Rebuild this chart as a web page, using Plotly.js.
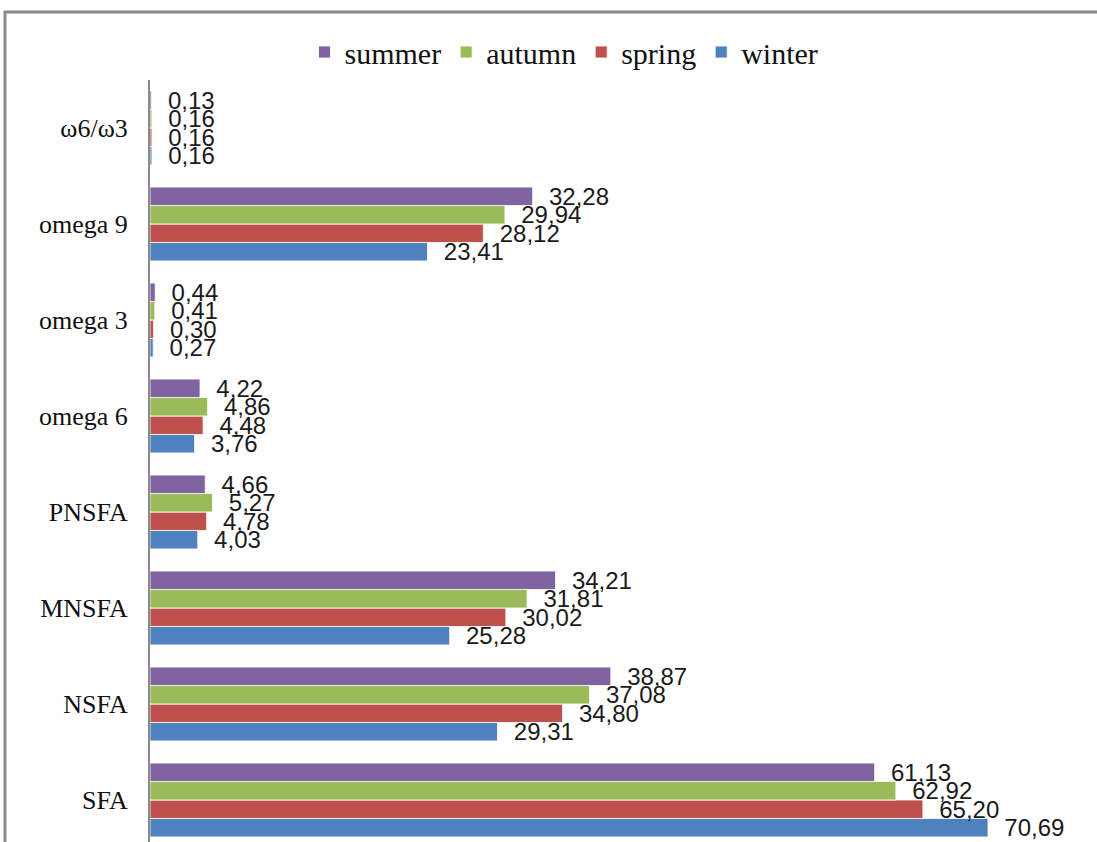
<!DOCTYPE html>
<html>
<head>
<meta charset="utf-8">
<script src="https://cdn.plot.ly/plotly-3.0.1.min.js"></script>
<style>
  html, body { margin: 0; padding: 0; background: #fff; }
  #chart { width: 1097px; height: 842px; }
</style>
</head>
<body>
<div id="chart"></div>
<script>
// Categories, bottom to top
const categories = ["SFA", "NSFA", "MNSFA", "PNSFA", "omega 6", "omega 3", "omega 9", "ω6/ω3"];
const winter = [70.69, 29.31, 25.28, 4.03, 3.76, 0.27, 23.41, 0.16];
const spring = [65.20, 34.80, 30.02, 4.78, 4.48, 0.30, 28.12, 0.16];
const autumn = [62.92, 37.08, 31.81, 5.27, 4.86, 0.41, 29.94, 0.16];
const summer = [61.13, 38.87, 34.21, 4.66, 4.22, 0.44, 32.28, 0.13];
const seriesNames = ["winter", "spring", "autumn", "summer"];
const seriesValues = [winter, spring, autumn, summer];
const seriesColors = ["#4F81BD", "#C0504D", "#9BBB59", "#8064A2"];

const fmt = v => "\u00a0\u00a0" + v.toFixed(2).replace(".", ",");

const traces = seriesNames.map((name, i) => ({
  type: "bar",
  orientation: "h",
  name: name,
  y: categories,
  x: seriesValues[i],
  text: seriesValues[i].map(fmt),
  textposition: "outside",
  constraintext: "none",
  cliponaxis: false,
  textfont: { family: "Liberation Sans, Arial, sans-serif", size: 24, color: "#1a1a1a" },
  marker: { color: seriesColors[i], line: { color: "rgba(255,255,255,0.8)", width: 1 } },
  hoverinfo: "x+y+name"
}));

const plotW = 1097 - 150 - 20;
const plotH = 842 - 80;
const px = x => (x - 150) / plotW;
const py = y => 1 + (80 - y) / plotH;

const layout = {
  width: 1097,
  height: 842,
  margin: { l: 150, r: 20, t: 80, b: 0, pad: 0 },
  paper_bgcolor: "#ffffff",
  plot_bgcolor: "#ffffff",
  barmode: "group",
  bargap: 0.23,
  bargroupgap: 0,
  showlegend: true,
  legend: {
    orientation: "h",
    traceorder: "reversed",
    x: px(564),
    xanchor: "center",
    y: py(52),
    yanchor: "middle",
    font: { family: "Liberation Serif, Times New Roman, serif", size: 30, color: "#111" },
    itemwidth: 30,
    bgcolor: "rgba(0,0,0,0)"
  },
  xaxis: {
    range: [0, plotW / (838 / 70.69)],
    showticklabels: false,
    showgrid: false,
    zeroline: false,
    showline: false,
    ticks: ""
  },
  yaxis: {
    type: "category",
    categoryorder: "array",
    categoryarray: categories,
    range: [-0.4375, 7.5],
    showline: true,
    linecolor: "#8a8a8a",
    linewidth: 2,
    ticks: "",
    ticklabelstandoff: 15,
    showgrid: false,
    zeroline: false,
    tickfont: { family: "Liberation Serif, Times New Roman, serif", size: 26, color: "#111" }
  },
  shapes: [
    { type: "line", xref: "paper", yref: "paper",
      x0: px(5), x1: px(5), y0: py(11), y1: py(850),
      line: { color: "#8a8a8a", width: 3 } },
    { type: "line", xref: "paper", yref: "paper",
      x0: px(4), x1: px(1097), y0: py(12), y1: py(12),
      line: { color: "#8a8a8a", width: 3 } }
  ]
};

Plotly.newPlot("chart", traces, layout, { displayModeBar: false, staticPlot: true });
</script>
</body>
</html>
